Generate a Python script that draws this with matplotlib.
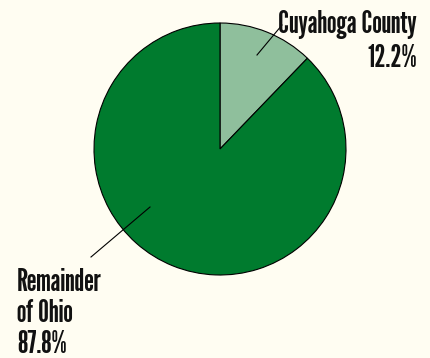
import matplotlib
matplotlib.use("Agg")
import matplotlib.pyplot as plt

labels = ["Cuyahoga County", "Remainder of Ohio"]
shares = [12.2, 87.8]
colors = ["#8fbf9c", "#007b2e"]

bg = "#fffdf2"
plt.rcParams["font.family"] = ["League Gothic", "Antonio", "Oswald", "DejaVu Sans"]

fig = plt.figure(figsize=(4.31, 3.58), dpi=100, facecolor=bg)
ax = fig.add_axes([0, 0, 1, 1])
ax.set_facecolor(bg)

wedges, _ = ax.pie(shares, colors=colors, startangle=90, counterclock=False,
                   center=(220, 209), radius=126,
                   wedgeprops=dict(edgecolor="black", linewidth=0.8))

# pie() resets the limits, so fix them afterwards
ax.set_xlim(0, 431)
ax.set_ylim(0, 358)
ax.set_aspect("equal")
ax.axis("off")


def label_lines(lines, x, baselines, ha):
    for line, y in zip(lines, baselines):
        ax.text(x, y, line, ha=ha, va="baseline", fontsize=22, color="#111111")


# Cuyahoga label, top right
ax.plot([257, 282], [303, 333], color="black", lw=0.8)
label_lines([labels[0], f"{shares[0]}%"], 417, [325, 291], "right")

# rest of the state, bottom left
ax.plot([150, 91], [151, 101], color="black", lw=0.8)
label_lines(["Remainder", "of Ohio", f"{shares[1]}%"], 17, [67, 36, 5], "left")

fig.savefig("out.png", dpi=100, facecolor=bg)
